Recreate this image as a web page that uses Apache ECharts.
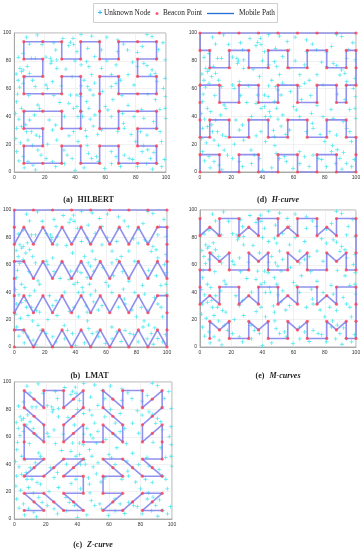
<!DOCTYPE html>
<html><head><meta charset="utf-8">
<script src="https://cdn.jsdelivr.net/npm/echarts@6/dist/echarts.min.js"></script>
<style>html,body{margin:0;padding:0;background:#fff;}#c{width:364px;height:550px;}</style>
</head><body><div id="c"></div>
<script>
// ---------- data ----------
const tickValues = [0, 20, 40, 60, 80, 100];
const captions = ['(a) HILBERT', '(d) H-curve', '(b) LMAT', '(e) M-curves', '(c) Z-curve'];

const unknownNodes = [
[15.1,98.6],[38.7,96.2],[37.0,93.3],[39.1,91.8],[35.9,90.9],[51.0,97.8],[55.9,93.8],[68.2,95.0],[87.5,99.0],[90.8,97.4],
[18.3,91.8],[27.3,87.8],[2.6,82.5],[5.8,85.4],[11.2,81.8],[13.8,81.8],[20.9,82.7],[23.7,81.8],[24.7,79.9],[28.0,80.6],
[41.3,86.6],[48.4,89.0],[57.4,87.8],[68.2,86.6],[74.6,87.8],[81.1,86.1],[84.3,90.2],[94.0,81.8],[99.5,80.6],[3.7,74.6],
[4.7,72.2],[5.8,73.4],[7.5,68.6],[24.1,78.2],[28.0,74.6],[38.1,68.6],[47.7,79.4],[49.2,75.8],[57.4,74.6],[67.1,77.0],
[81.1,75.8],[85.4,78.2],[87.5,76.5],[90.8,73.4],[89.7,69.8],[92.9,71.0],[99.4,67.4],[5.8,63.8],[13.8,61.4],[20.9,62.6],
[21.9,60.2],[25.2,65.0],[37.0,55.4],[41.3,55.4],[43.7,54.2],[48.4,61.4],[49.9,59.0],[52.0,55.4],[63.9,61.4],[67.1,63.8],
[78.9,62.6],[94.0,65.0],[98.3,60.2],[99.6,54.2],[1.5,50.6],[4.7,45.8],[6.9,43.4],[15.5,48.2],[16.6,45.8],[13.3,41.0],
[10.1,37.4],[23.0,37.4],[27.3,33.8],[35.9,49.4],[39.1,45.8],[41.3,47.0],[44.5,43.4],[41.9,39.8],[47.7,50.6],[49.2,45.8],
[53.1,41.0],[61.7,44.6],[63.9,39.8],[71.4,42.2],[78.9,39.8],[85.4,38.6],[91.8,36.2],[99.4,45.8],[99.8,38.6],[1.5,31.4],
[4.7,32.6],[8.0,29.0],[11.2,29.0],[14.4,26.6],[16.6,25.4],[25.2,30.2],[39.1,29.0],[47.7,25.4],[57.4,30.2],[68.2,29.0],
[72.5,31.4],[83.2,29.0],[87.5,26.6],[94.0,31.4],[96.1,29.0],[1.5,14.6],[5.8,11.0],[9.0,7.4],[12.3,5.0],[15.5,15.8],
[17.6,12.2],[20.9,9.8],[25.2,7.4],[27.3,3.8],[32.7,15.8],[34.8,12.2],[38.1,9.8],[48.8,13.4],[51.0,9.8],[54.2,11.0],
[55.3,7.4],[59.6,2.6],[63.9,14.6],[67.1,11.0],[72.5,12.2],[75.7,9.8],[81.1,3.8],[84.3,14.6],[89.7,9.8],[94.0,6.2],
[97.2,3.8],
[1.2,70.5],[2.5,66],[3.5,61],[8.5,76],[10,71],[12,66],[9.5,55],[2,56],[0.8,42],[3,38],[7.5,34],[1,24],[4,21],[9,23],
[12,19],[3,8],[6.5,3],[14,1.5],[44,62],[46,66],[51,70],[53,64],[58,58],[45,40],[50,38],[52,33],[47,30],[55,27],
[42,22],[48,19],[36,26],[33,40],[30,50],[26,55],[60,47],[65,52],[71,55],[75,48],[72,35],[77,27],[80,22],[85,19],
[88,16],[92,14],[87,6],[91,2],[78,9],[70,4],[64,6],[46,3],[40,1],[33,6],[22,20],[28,23],[31,62],[34,74],[40,80],
[44,77],[53,83],[61,80],[64,70],[70,66],[75,70],[78,79],[72,92],[61,97],[44,99],[32,96],[26,93],[10,92],[8,97],
[95,88],[98,93],[96,45],[93,52],[88,56],[84,45],[97,22],[99,9]
];

const hilbertPath = [
[43.75,56.25],[43.75,68.75],[31.25,68.75],[31.25,56.25],[18.75,56.25],[6.25,56.25],[6.25,68.75],[18.75,68.75],[18.75,81.25],[6.25,81.25],[6.25,93.75],[18.75,93.75],[31.25,93.75],[31.25,81.25],[43.75,81.25],[43.75,93.75],
[56.25,93.75],[56.25,81.25],[68.75,81.25],[68.75,93.75],[81.25,93.75],[93.75,93.75],[93.75,81.25],[81.25,81.25],[81.25,68.75],[93.75,68.75],[93.75,56.25],[81.25,56.25],[68.75,56.25],[68.75,68.75],[56.25,68.75],[56.25,56.25],
[56.25,43.75],[56.25,31.25],[68.75,31.25],[68.75,43.75],[81.25,43.75],[93.75,43.75],[93.75,31.25],[81.25,31.25],[81.25,18.75],[93.75,18.75],[93.75,6.25],[81.25,6.25],[68.75,6.25],[68.75,18.75],[56.25,18.75],[56.25,6.25],
[43.75,6.25],[43.75,18.75],[31.25,18.75],[31.25,6.25],[18.75,6.25],[6.25,6.25],[6.25,18.75],[18.75,18.75],[18.75,31.25],[6.25,31.25],[6.25,43.75],[18.75,43.75],[31.25,43.75],[31.25,31.25],[43.75,31.25],[43.75,43.75],
[43.75,56.25]
];
const hilbertBeacons = hilbertPath.slice(0, 64);

const hcurvePath = [
[100,100],[0,100],[0,87.5],[6.25,87.5],[6.25,75],[18.75,75],[18.75,87.5],[31.25,87.5],[31.25,75],[43.75,75],[43.75,87.5],[56.25,87.5],[56.25,75],[68.75,75],[68.75,87.5],[81.25,87.5],[81.25,75],[93.75,75],[93.75,87.5],[100,87.5],
[100,62.5],[93.75,62.5],[93.75,50],[87.5,50],[87.5,62.5],[75,62.5],[75,50],[62.5,50],[62.5,62.5],[50,62.5],[50,50],[37.5,50],[37.5,62.5],[25,62.5],[25,50],[12.5,50],[12.5,62.5],[0,62.5],
[0,25],[6.25,25],[6.25,37.5],[18.75,37.5],[18.75,25],[31.25,25],[31.25,37.5],[43.75,37.5],[43.75,25],[56.25,25],[56.25,37.5],[68.75,37.5],[68.75,25],[81.25,25],[81.25,37.5],[93.75,37.5],[93.75,25],[100,25],
[100,0],[87.5,0],[87.5,12.5],[75,12.5],[75,0],[62.5,0],[62.5,12.5],[50,12.5],[50,0],[37.5,0],[37.5,12.5],[25,12.5],[25,0],[12.5,0],[12.5,12.5],[0,12.5],[0,0]
];
const hcurveBeacons = [
[12.5,100],[25,100],[37.5,100],[50,100],[62.5,100],[75,100],[87.5,100],[100,75],[0,50],[0,37.5],[100,12.5]
].concat(hcurvePath);

const lmatPath = [
[100,100],[0,100],[0,75],[6.25,87.5],[12.5,75],[18.75,87.5],[25,75],[31.25,87.5],[37.5,75],[43.75,87.5],[50,75],[56.25,87.5],[62.5,75],[68.75,87.5],[75,75],[81.25,87.5],[87.5,75],[93.75,87.5],[100,87.5],
[100,50],[93.75,62.5],[87.5,50],[81.25,62.5],[75,50],[68.75,62.5],[62.5,50],[56.25,62.5],[50,50],[43.75,62.5],[37.5,50],[31.25,62.5],[25,50],[18.75,62.5],[12.5,50],[6.25,62.5],[0,62.5],
[0,25],[6.25,37.5],[12.5,25],[18.75,37.5],[25,25],[31.25,37.5],[37.5,25],[43.75,37.5],[50,25],[56.25,37.5],[62.5,25],[68.75,37.5],[75,25],[81.25,37.5],[87.5,25],[93.75,37.5],[100,37.5],
[100,0],[93.75,12.5],[87.5,0],[81.25,12.5],[75,0],[68.75,12.5],[62.5,0],[56.25,12.5],[50,0],[43.75,12.5],[37.5,0],[31.25,12.5],[25,0],[18.75,12.5],[12.5,0],[6.25,12.5],[0,12.5]
];
const lmatBeacons = [
[12.5,100],[25,100],[37.5,100],[50,100],[62.5,100],[75,100],[87.5,100],[0,87.5],[100,75],[100,62.5],[0,50],[0,37.5],[100,25],[100,12.5],[0,0]
].concat(lmatPath);

const mcurvePath = [
[0,93.75],[0,81.25],[6.25,87.5],[12.5,81.25],[12.5,93.75],[25,93.75],[25,81.25],[31.25,87.5],[37.5,81.25],[37.5,93.75],[50,93.75],[50,81.25],[56.25,87.5],[62.5,81.25],[62.5,93.75],[75,93.75],[75,81.25],[81.25,87.5],[87.5,81.25],[87.5,93.75],[100,93.75],
[100,56.25],[93.75,56.25],[93.75,68.75],[87.5,62.5],[81.25,68.75],[81.25,56.25],[68.75,56.25],[68.75,68.75],[62.5,62.5],[56.25,68.75],[56.25,56.25],[43.75,56.25],[43.75,68.75],[37.5,62.5],[31.25,68.75],[31.25,56.25],[18.75,56.25],[18.75,68.75],[12.5,62.5],[6.25,68.75],[6.25,56.25],[0,56.25],
[0,31.25],[6.25,37.5],[12.5,31.25],[12.5,43.75],[25,43.75],[25,31.25],[31.25,37.5],[37.5,31.25],[37.5,43.75],[50,43.75],[50,31.25],[56.25,37.5],[62.5,31.25],[62.5,43.75],[75,43.75],[75,31.25],[81.25,37.5],[87.5,31.25],[87.5,43.75],[100,43.75],
[100,6.25],[93.75,6.25],[93.75,18.75],[87.5,12.5],[81.25,18.75],[81.25,6.25],[68.75,6.25],[68.75,18.75],[62.5,12.5],[56.25,18.75],[56.25,6.25],[43.75,6.25],[43.75,18.75],[37.5,12.5],[31.25,18.75],[31.25,6.25],[18.75,6.25],[18.75,18.75],[12.5,12.5],[6.25,18.75],[6.25,6.25]
];
const mcurveBeacons = [[100,81.25],[100,68.75],[0,43.75],[100,31.25],[100,18.75]].concat(mcurvePath);

const zcurvePath = [
[6.25,6.25],[18.75,6.25],[6.25,18.75],[18.75,18.75],[31.25,6.25],[43.75,6.25],[31.25,18.75],[43.75,18.75],[43.75,31.25],[31.25,31.25],[43.75,43.75],[31.25,43.75],[18.75,31.25],[6.25,31.25],[18.75,43.75],[6.25,43.75],
[6.25,56.25],[6.25,68.75],[18.75,56.25],[18.75,68.75],[6.25,81.25],[6.25,93.75],[18.75,81.25],[18.75,93.75],[31.25,93.75],[31.25,81.25],[43.75,93.75],[43.75,81.25],[31.25,68.75],[31.25,56.25],[43.75,68.75],[43.75,56.25],
[56.25,56.25],[56.25,68.75],[68.75,56.25],[68.75,68.75],[56.25,81.25],[56.25,93.75],[68.75,81.25],[68.75,93.75],[81.25,93.75],[81.25,81.25],[93.75,93.75],[93.75,81.25],[81.25,68.75],[81.25,56.25],[93.75,68.75],[93.75,56.25],
[93.75,43.75],[81.25,43.75],[93.75,31.25],[81.25,31.25],[68.75,43.75],[56.25,43.75],[68.75,31.25],[56.25,31.25],[56.25,18.75],[68.75,18.75],[56.25,6.25],[68.75,6.25],[81.25,18.75],[93.75,18.75],[81.25,6.25],[93.75,6.25]
];
const zcurveMidBeacons = [
[12.5,12.5],[25,12.5],[37.5,12.5],[37.5,37.5],[25,37.5],[12.5,37.5],[12.5,62.5],[12.5,75],[12.5,87.5],[37.5,87.5],[37.5,75],[37.5,62.5],
[62.5,62.5],[62.5,75],[62.5,87.5],[87.5,87.5],[87.5,75],[87.5,62.5],[87.5,37.5],[75,37.5],[62.5,37.5],[62.5,12.5],[75,12.5],[87.5,12.5]
];
const zcurveBeacons = zcurveMidBeacons.concat(zcurvePath);

// ---------- chart ----------
const plots = [
  {path: hilbertPath, beacons: hilbertBeacons, box: {left: 11, top: 33, width: 155, height: 139}, capY: 196},
  {path: hcurvePath, beacons: hcurveBeacons, box: {left: 200, top: 33, width: 156, height: 139}, capY: 196},
  {path: lmatPath, beacons: lmatBeacons, box: {left: 12, top: 210, width: 155, height: 137}, capY: 372},
  {path: mcurvePath, beacons: mcurveBeacons, box: {left: 200, top: 210, width: 156, height: 137}, capY: 372},
  {path: zcurvePath, beacons: zcurveBeacons, box: {left: 14, top: 382, width: 158, height: 137}, capY: 541}
];
const plus = 'path://M4,0L6,0L6,4L10,4L10,6L6,6L6,10L4,10L4,6L0,6L0,4L4,4Z';
const axisCommon = {
  type: 'value', min: 0, max: 100, interval: 20,
  axisLine: {show: true, lineStyle: {color: '#9a9a9a', width: 0.8}},
  axisTick: {show: false},
  axisLabel: {fontSize: 5, color: '#333', margin: 3, fontFamily: 'Liberation Sans',
              formatter: v => tickValues.indexOf(v) >= 0 ? String(v) : ''},
  splitLine: {show: true, lineStyle: {color: '#e8e8e8', width: 0.6}}
};
const option = {
  animation: false,
  backgroundColor: '#fff',
  grid: [], xAxis: [], yAxis: [], series: [], title: [],
  graphic: []
};
plots.forEach((p, i) => {
  option.grid.push(Object.assign({show: true, borderColor: '#9a9a9a', borderWidth: 0.8}, p.box));
  option.xAxis.push(Object.assign({gridIndex: i}, axisCommon));
  option.yAxis.push(Object.assign({gridIndex: i}, axisCommon));
  option.series.push({type: 'scatter', name: 'Unknown Node', xAxisIndex: i, yAxisIndex: i,
    data: unknownNodes, symbol: plus, symbolSize: 4, itemStyle: {color: '#2fe3ee'}, z: 2});
  option.series.push({type: 'line', name: 'Mobile Path', xAxisIndex: i, yAxisIndex: i,
    data: p.path, showSymbol: false, lineStyle: {color: '#8585ec', width: 1.6, opacity: 0.9}, z: 3});
  option.series.push({type: 'scatter', name: 'Beacon Point', xAxisIndex: i, yAxisIndex: i,
    data: p.beacons, symbol: 'circle', symbolSize: 3.2, itemStyle: {color: '#ff4052'}, z: 4});
  const parts = captions[i].split(' ');
  option.title.push({
    text: '{b|' + parts[0] + '} {n|' + parts.slice(1).join(' ') + '}',
    left: p.box.left + p.box.width / 2, top: p.capY - 5, textAlign: 'center', padding: 0,
    textStyle: {rich: {
      b: {fontFamily: 'Liberation Serif', fontSize: 8, lineHeight: 10, fontWeight: 'bold', color: '#222'},
      n: {fontFamily: 'Liberation Serif', fontSize: 8, lineHeight: 10, color: '#222', fontStyle: i === 0 || i === 2 ? 'normal' : 'italic'}
    }}
  });
});
// legend box
option.graphic.push(
  {type: 'rect', shape: {x: 93.5, y: 3.5, width: 184, height: 19}, style: {fill: '#fff', stroke: '#cfcfcf', lineWidth: 1}},
  {type: 'text', x: 100, y: 13, style: {text: '+', fill: '#2fb8ee', font: 'bold 8px Liberation Sans', textAlign: 'center', textVerticalAlign: 'middle'}},
  {type: 'text', x: 104, y: 13.5, style: {text: 'Unknown Node', fill: '#222', font: '7.3px Liberation Serif', textVerticalAlign: 'middle'}},
  {type: 'circle', shape: {cx: 157, cy: 13.5, r: 1.5}, style: {fill: '#ff5a78'}},
  {type: 'text', x: 163, y: 13.5, style: {text: 'Beacon Point', fill: '#222', font: '7.3px Liberation Serif', textVerticalAlign: 'middle'}},
  {type: 'line', shape: {x1: 207, y1: 13.5, x2: 234, y2: 13.5}, style: {stroke: '#1f6fd6', lineWidth: 1.3}},
  {type: 'text', x: 239, y: 13.5, style: {text: 'Mobile Path', fill: '#222', font: '7.3px Liberation Serif', textVerticalAlign: 'middle'}}
);
const chart = echarts.init(document.getElementById('c'), null, {renderer: 'canvas'});
chart.setOption(option);
</script>
</body></html>
